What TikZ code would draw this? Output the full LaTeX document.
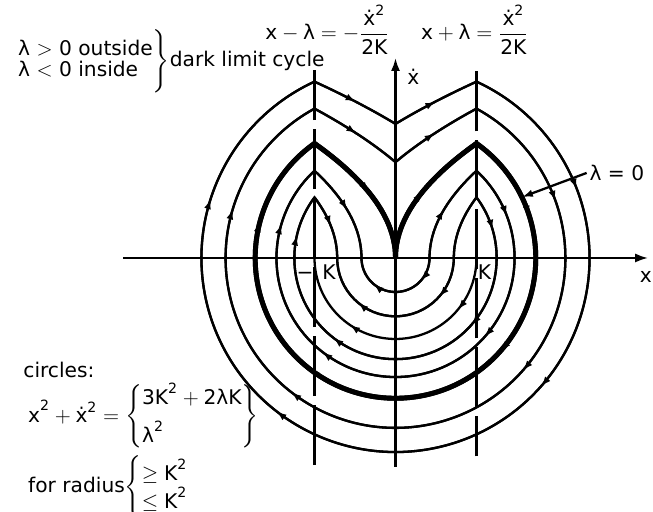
\documentclass[tikz,border=0pt]{standalone}
\usepackage{amsmath}
\usepackage{fontspec}
\setmainfont{DejaVu Sans}
\usetikzlibrary{arrows.meta,decorations.markings}

\newcommand{\xx}{\mathrm{x}}
\newcommand{\xd}{\text{ẋ}}
\newcommand{\KK}{\mathrm{K}}
\newcommand{\lam}{\text{λ}}

\tikzset{
  traj/.style={line width=1.3pt},
  limit/.style={line width=2.8pt},
  noflow/.style={},
  flowtip/.tip={Latex[length=2mm,width=1.4mm]},
  flow/.style={postaction={decorate},decoration={markings,mark=at position #1 with {\arrow{flowtip}}}},
  flowtwo/.style 2 args={postaction={decorate},decoration={markings,mark=at position #1 with {\arrow{flowtip}},mark=at position #2 with {\arrow{flowtip}}}},
}

\begin{document}
\begin{tikzpicture}[x=1.62cm,y=1.62cm,line width=1.3pt,font=\fontsize{11.5}{14}\selectfont,every node/.style={inner sep=1pt}]
\useasboundingbox (-4.883,-3.136) rectangle (3.179,3.185);
\draw[-{Latex[length=2.6mm,width=1.8mm]}] (-3.36,0)--(3.12,0);
\draw[-{Latex[length=2.6mm,width=1.8mm]}] (0,-2.58)--(0,2.47);
\draw[dash pattern=on 1.2cm off 1.8mm] (-1,-2.556)--(-1,2.32);
\draw[dash pattern=on 1.2cm off 1.8mm,dash phase=4mm] (1,-2.45)--(1,2.32);
% lambda >= 0: V on the axis, cusps on x=K and x=-K
\foreach \lm/\sty in {1.37/traj,0.7/traj,0/limit}{
  \pgfmathsetmacro{\Rc}{sqrt(3+2*\lm)}
  \pgfmathsetmacro{\hc}{sqrt(2+2*\lm)}
  \pgfmathsetmacro{\vc}{sqrt(2*\lm)}
  \pgfmathsetmacro{\ac}{atan(\hc)}
  \draw[\sty,line join=miter] plot[domain=0:1,samples=25] ({(\vc+(\hc-\vc)*\x)^2/2-\lm},{\vc+(\hc-\vc)*\x})
    arc[start angle=\ac,end angle=-180-\ac,radius=\Rc]
    -- plot[domain=0:1,samples=25] ({\lm-(\hc-(\hc-\vc)*\x)^2/2},{\hc-(\hc-\vc)*\x}) -- cycle;
  \draw[\sty,flow=.5] plot[domain=0:1,samples=25] ({(\vc+(\hc-\vc)*\x)^2/2-\lm},{\vc+(\hc-\vc)*\x});
  \draw[\sty,flow=.5] plot[domain=0:1,samples=25] ({\lm-(\hc-(\hc-\vc)*\x)^2/2},{\hc-(\hc-\vc)*\x});
  \draw[\sty,flow=.68] (1,\hc) arc[start angle=\ac,end angle=0,radius=\Rc];
  \draw[\sty,flow=.27] (-\Rc,0) arc[start angle=180,end angle=180-\ac,radius=\Rc];
  \draw[\sty,flowtwo={.23}{.71}] (\Rc,0) arc[start angle=0,end angle=-180,radius=\Rc];
}
% lambda < 0: inner half circle of radius -lambda
\foreach \rc/\rs in {0.42/flow,0.72/noflow}{
  \pgfmathsetmacro{\Rc}{sqrt(3-2*\rc)}
  \pgfmathsetmacro{\hc}{sqrt(2-2*\rc)}
  \pgfmathsetmacro{\ac}{atan(\hc)}
  \draw[traj] (\rc,0) arc[start angle=0,end angle=-180,radius=\rc]
    -- plot[domain=0:1,samples=25] ({-\rc-(\hc*\x)^2/2},{\hc*\x})
    arc[start angle=180-\ac,end angle=360+\ac,radius=\Rc]
    -- plot[domain=0:1,samples=25] ({\rc+(\hc*(1-\x))^2/2},{\hc*(1-\x)}) -- cycle;
  \draw[traj,flowtwo={.23}{.72}] (\rc,0) arc[start angle=0,end angle=-180,radius=\rc];
  \draw[traj,flow=.5] plot[domain=0:1,samples=25] ({-\rc-(\hc*(1-\x))^2/2},{\hc*(1-\x)});
  \draw[traj,flow=.35] (-\Rc,0) arc[start angle=180,end angle=180-\ac,radius=\Rc];
  \draw[traj,flowtwo={.23}{.71}] (\Rc,0) arc[start angle=0,end angle=-180,radius=\Rc];
  \draw[traj,flow=.56] (1,\hc) arc[start angle=\ac,end angle=0,radius=\Rc];
  \draw[traj,\rs=.5] plot[domain=0:1,samples=25] ({\rc+(\hc*\x)^2/2},{\hc*\x});
}
\draw[traj,flowtwo={.22}{.69}] (1,0) arc[start angle=0,end angle=-180,radius=1];
\node (eqL) at (-0.84,2.82) {$\xx-\lam=-\dfrac{\xd^{\mathrm{2}}}{\mathrm{2}\KK}$};
\node (eqR) at (0.98,2.82) {$\xx+\lam=\dfrac{\xd^{\mathrm{2}}}{\mathrm{2}\KK}$};
\node (xdot) at (0.22,2.24) {ẋ};
\node (xlab) at (3.09,-0.24) {x};
\node (mK) at (-0.98,-0.17) {−\hspace{5pt}K};\node (pK) at (1.1,-0.17) {K};
\node[anchor=west] (lzero) at (2.36,1.05) {λ = 0};
\coordinate (limpt) at (25.7:1.732);
\draw[-{Latex[length=2.2mm,width=1.5mm]}] (lzero.west)--(limpt);
\node[anchor=west] (cond) at (-4.72,2.43) {\renewcommand{\arraystretch}{.8}$\left.\vrule height 15pt depth 15pt width 0pt\begin{array}{@{}l@{}}\text{λ $>$ 0 outside}\\ \text{λ $<$ 0 inside}\end{array}\right\}$dark limit cycle};
\node[anchor=west] (circ) at (-4.63,-1.38) {circles:};
\node[anchor=west] (circeq) at (-4.57,-1.96) {$\xx^{\mathrm{2}}+\xd^{\mathrm{2}}=\left\{\begin{array}{@{}l@{}}\mathrm{3}\KK^{\mathrm{2}}+\mathrm{2}\lam\KK\\[5pt] \lam^{\mathrm{2}}\end{array}\right\}$};
\node[anchor=west] (rad) at (-4.57,-2.83) {\renewcommand{\arraystretch}{.85}for radius$\left\{\vrule height 14pt depth 14pt width 0pt\begin{array}{@{}l@{}}\geq\KK^{\mathrm{2}}\\ \leq\KK^{\mathrm{2}}\end{array}\right.$};
\end{tikzpicture}
\end{document}
